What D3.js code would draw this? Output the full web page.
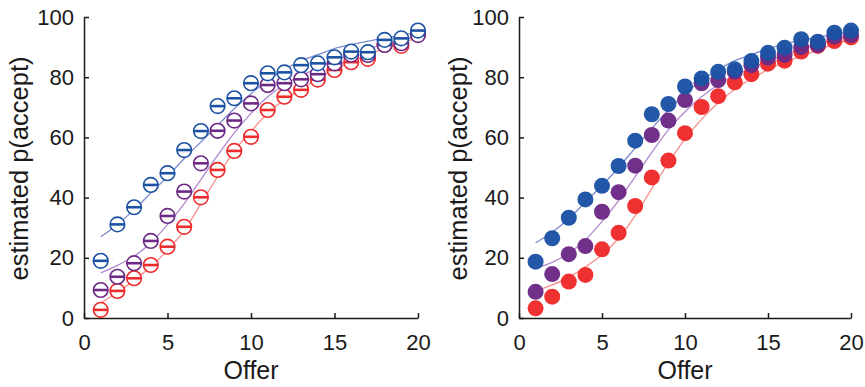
<!DOCTYPE html>
<html>
<head>
<meta charset="utf-8">
<script src="https://cdn.jsdelivr.net/npm/d3@7"></script>
<style>
  body { margin: 0; background: #fff; }
  svg { display: block; }
  text { font-family: "Liberation Sans", Arial, sans-serif; fill: #1a1a1a; }
  .axis path, .axis line { stroke: #1a1a1a; stroke-width: 1.5; }
  .axis text { font-size: 22px; }
</style>
</head>
<body>
<svg id="chart" width="865" height="387"></svg>
<script>

//offers on the x axis
var offers = [1, 2, 3, 4, 5, 6, 7, 8, 9, 10, 11, 12, 13, 14, 15, 16, 17, 18, 19, 20];
var xTicks = [0, 5, 10, 15, 20];
var yTicks = [0, 20, 40, 60, 80, 100];

//left panel (open markers)
var leftBlue   = [19.0, 31.1, 36.8, 44.2, 48.1, 55.8, 62.1, 70.4, 73.0, 78.0, 81.3, 81.6, 84.0, 84.6, 86.6, 88.5, 88.3, 92.4, 92.9, 95.5];
var leftPurple = [9.3, 13.7, 18.2, 25.6, 33.9, 42.0, 51.4, 62.2, 65.6, 71.3, 77.4, 78.0, 79.3, 81.0, 84.6, 87.5, 87.4, 90.7, 91.3, 94.0];
var leftRed    = [2.7, 9.0, 13.2, 17.6, 23.7, 30.3, 40.1, 49.2, 55.5, 60.2, 69.1, 73.5, 75.8, 79.2, 82.4, 85.0, 86.1, 90.8, 90.4, 94.6];
var leftBlueFit   = [27, 31, 36, 41.5, 47, 53, 58.5, 64, 69.5, 74.5, 79, 82.5, 85.5, 87.5, 89.5, 90.8, 92, 93, 94, 94.8];
var leftPurpleFit = [15, 17.5, 20.5, 25, 31, 38, 46, 54, 61.5, 68, 73.5, 77.5, 80.5, 83, 85.5, 87.5, 89.5, 91, 92.5, 93.5];
var leftRedFit    = [5, 8.5, 12.5, 17, 22.5, 29, 38, 47, 55.5, 62, 68, 72.5, 76, 79.5, 82.5, 85, 87.5, 89.5, 91.5, 93];

//right panel (filled markers)
var rightBlue   = [18.7, 26.5, 33.3, 39.4, 43.9, 50.5, 58.9, 67.7, 71.1, 76.9, 79.6, 81.8, 82.6, 85.4, 88.1, 89.8, 92.6, 91.8, 94.8, 95.5];
var rightPurple = [8.7, 14.6, 21.2, 23.9, 35.3, 41.8, 50.6, 60.8, 65.6, 72.4, 78.0, 79.0, 81.8, 84.0, 86.5, 87.4, 90.0, 90.7, 93.5, 94.0];
var rightRed    = [3.2, 7.1, 12.1, 14.3, 22.8, 28.3, 37.2, 46.7, 52.3, 61.4, 70.1, 73.7, 78.3, 81.0, 84.5, 85.5, 88.5, 90.4, 92.0, 93.2];
var rightBlueFit   = [25, 28.5, 33, 38.5, 44, 50, 56.5, 63, 69, 74.5, 79, 82.5, 85.5, 87.5, 89.5, 91, 92.3, 93.3, 94.2, 95];
var rightPurpleFit = [16.5, 18.5, 21.5, 26, 32, 39, 47, 55, 62.5, 68.5, 73.5, 77.5, 80.5, 83, 85.5, 87.5, 89.5, 91, 92.5, 93.5];
var rightRedFit    = [9, 11, 13.5, 17, 21, 26.5, 34, 43, 51.5, 59.5, 66, 71.5, 76, 79.5, 82.5, 85, 87, 89, 91, 92.5];

var colors = {red: "#ee2a2a", purple: "#6c2a86", blue: "#1c52a4"};
var fitColors = {red: "#f58f8f", purple: "#b187cf", blue: "#7d8ccc"};

var svg = d3.select("#chart");
var plotTop = 17, plotBottom = 318;

//draw one panel
function drawPanel(left, right, series, filled, labelX) {
  var x = d3.scaleLinear().domain([0, 20]).range([left, right]);
  var y = d3.scaleLinear().domain([0, 100]).range([plotBottom, plotTop]);

  var g = svg.append("g");

  //axes, ticks pointing inward
  g.append("g")
    .attr("class", "axis")
    .attr("transform", "translate(0," + plotBottom + ")")
    .call(d3.axisBottom(x).tickValues(xTicks).tickSizeInner(-5).tickSizeOuter(0).tickPadding(16));

  g.append("g")
    .attr("class", "axis")
    .attr("transform", "translate(" + left + ",0)")
    .call(d3.axisLeft(y).tickValues(yTicks).tickSizeInner(-5).tickSizeOuter(0).tickPadding(10));

  g.selectAll(".axis text").attr("fill", "#1a1a1a");

  //axis labels
  g.append("text")
    .attr("x", (left + right) / 2)
    .attr("y", 379)
    .attr("text-anchor", "middle")
    .style("font-size", "25px")
    .text("Offer");

  g.append("text")
    .attr("transform", "translate(" + labelX + "," + ((plotTop + plotBottom) / 2 + 1) + ") rotate(-90)")
    .attr("text-anchor", "middle")
    .style("font-size", "25.5px")
    .text("estimated p(accept)");

  var line = d3.line()
    .x(function(d, i) { return x(offers[i]); })
    .y(function(d) { return y(d); })
    .curve(d3.curveMonotoneX);

  //fitted curves
  series.forEach(function(s) {
    g.append("path")
      .datum(s.fit)
      .attr("fill", "none")
      .attr("stroke", fitColors[s.name])
      .attr("stroke-width", 1.3)
      .attr("d", line);
  });

  //markers
  series.forEach(function(s) {
    var m = g.append("g").selectAll("g")
      .data(s.values)
      .enter()
      .append("g")
      .attr("transform", function(d, i) { return "translate(" + x(offers[i]) + "," + y(d) + ")"; });

    if (filled) {
      m.append("circle")
        .attr("r", 8)
        .attr("fill", colors[s.name])
        .attr("fill-opacity", 0.97);
    } else {
      m.append("circle")
        .attr("r", 7.3)
        .attr("fill", "#fff")
        .attr("stroke", colors[s.name])
        .attr("stroke-width", 1.6);
      m.append("line")
        .attr("x1", -7.3).attr("x2", 7.3)
        .attr("stroke", colors[s.name])
        .attr("stroke-width", 2.6);
    }
  });
}

drawPanel(84, 418, [
  {name: "red", values: leftRed, fit: leftRedFit},
  {name: "purple", values: leftPurple, fit: leftPurpleFit},
  {name: "blue", values: leftBlue, fit: leftBlueFit}
], false, 28);

drawPanel(519, 851, [
  {name: "red", values: rightRed, fit: rightRedFit},
  {name: "purple", values: rightPurple, fit: rightPurpleFit},
  {name: "blue", values: rightBlue, fit: rightBlueFit}
], true, 467);

</script>
</body>
</html>
